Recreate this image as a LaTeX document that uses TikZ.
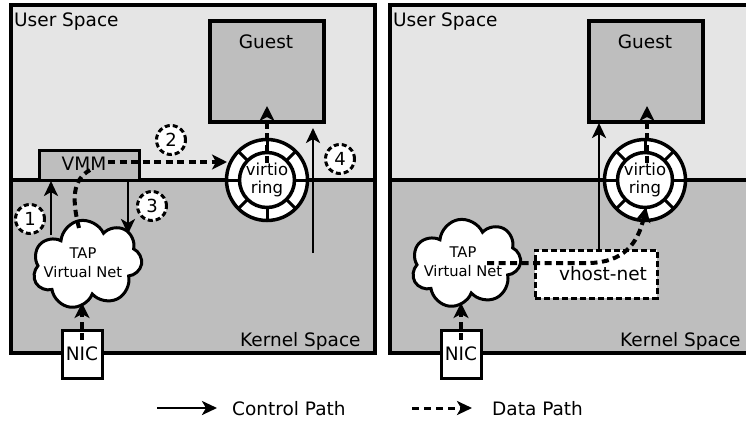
\documentclass[tikz,border=0pt]{standalone}
\usepackage{fontspec}
\setmainfont{DejaVu Sans}
\usetikzlibrary{arrows.meta,shapes.symbols}

\definecolor{userbg}{HTML}{E5E5E5}
\definecolor{kernbg}{HTML}{BEBEBE}

\begin{document}
\begin{tikzpicture}[x=1pt,y=-1pt,
  big/.style={font=\fontsize{18.5}{22}\selectfont},
  small/.style={font=\fontsize{14.7}{19}\selectfont},
  box/.style={draw, line width=3.5pt, fill=kernbg, inner sep=0},
  ringout/.style={circle, draw, line width=3.5pt, fill=white, minimum size=81, inner sep=0},
  ringin/.style={circle, draw, line width=3.5pt, fill=white, minimum size=55, inner sep=0,
    align=center, font=\fontsize{16.5}{18}\selectfont},
  spoke/.style={line width=3pt},
  cloudnode/.style={cloud, cloud puffs=7, cloud puff arc=150, aspect=1.2, draw,
    line width=3pt, fill=white, minimum width=110, minimum height=88, inner sep=0},
  nicbox/.style={draw, line width=3pt, fill=white, minimum width=40, minimum height=48,
    inner sep=0, big},
  numcirc/.style={circle, draw, dash pattern=on 5pt off 3pt, line width=3pt, fill=white,
    minimum size=29, inner sep=0, font=\fontsize{18}{20}\selectfont},
  ctrl/.style={line width=2.7pt, -{Stealth[length=15pt,width=14pt,inset=4pt]}},
  data/.style={line width=4pt, dash pattern=on 7pt off 4.5pt,
    -{Stealth[length=15pt,width=15pt,inset=4pt]}},
  dataline/.style={line width=4pt, dash pattern=on 7pt off 4.5pt},
]
\useasboundingbox (0,0) rectangle (746,421);

% ---------- left panel: classic virtio-net through the VMM ----------
\fill[userbg] (11,5) rectangle (375,180);
\fill[kernbg] (11,180) rectangle (375,353);
\draw[line width=3.5pt] (11,5) rectangle (375,353);
\draw[line width=3.5pt] (11,180) -- (375,180);
\node[big, anchor=base west, inner sep=0] (lus) at (14,26) {User Space};
\node[big, anchor=base west, inner sep=0] (lks) at (240,346) {Kernel Space};

\node[box, minimum width=114, minimum height=101] (lguest) at (267,71.5) {};
\node[big, anchor=base, inner sep=0] (lguestt) at (266,48) {Guest};

\node[box, line width=3pt, minimum width=100, minimum height=30] (vmm) at (89,165) {};
\node[big, anchor=base, inner sep=0] (vmmt) at (84,170) {VMM};

\node[ringout] (lring) at (267,180) {};
\foreach \a in {0,45,...,315}
  \draw[spoke] ([shift={(\a:27.5)}]lring.center) -- ([shift={(\a:40.5)}]lring.center);
\node[ringin] (lringc) at (267,180) {virtio\\ring};

\node[cloudnode, rotate=10] (lcloud) at (87,264) {};
\node[small, align=center, inner sep=0] (lcloudt) at (83,263) {TAP\\Virtual Net};

\node[nicbox] (lnic) at (82,354) {NIC};

% ---------- right panel: vhost-net in the kernel ----------
\begin{scope}
\clip (0,0) rectangle (746,421);
\fill[userbg] (390,5) rectangle (754,180);
\fill[kernbg] (390,180) rectangle (754,353);
\draw[line width=3.5pt] (390,5) rectangle (754,353);
\draw[line width=3.5pt] (390,180) -- (754,180);
\end{scope}
\node[big, anchor=base west, inner sep=0] (rus) at (393,26) {User Space};
\node[big, anchor=base west, inner sep=0] (rks) at (620,346) {Kernel Space};

\node[box, minimum width=114, minimum height=101] (rguest) at (646,71.5) {};
\node[big, anchor=base, inner sep=0] (rguestt) at (645,48) {Guest};

\node[ringout] (rring) at (645,180) {};
\foreach \a in {0,45,...,315}
  \draw[spoke] ([shift={(\a:27.5)}]rring.center) -- ([shift={(\a:40.5)}]rring.center);
\node[ringin] (rringc) at (645,180) {virtio\\ring};

\node[cloudnode, rotate=10] (rcloud) at (466,263) {};
\node[small, align=center, inner sep=0] (rcloudt) at (463,262) {TAP\\Virtual Net};

\node[nicbox] (rnic) at (461,354) {NIC};

\node[draw, line width=3pt, dash pattern=on 6pt off 3pt, fill=white,
  minimum width=122, minimum height=48, inner sep=0, big] (vhost) at (596,274)
  {\hspace*{14pt}vhost-net};

% ---------- connectors, left ----------
\coordinate (lnicdata) at (82,340);
\coordinate (lcloudbot) at (82,303);
\draw[data] (lnicdata) -- (lcloudbot);

\coordinate (lcloudtop) at (79,228);
\coordinate (vmmin) at (90,170);
\draw[dataline] (lcloudtop) .. controls (72,200) and (72,180) .. (vmmin);

\coordinate (vmmout) at (108,162);
\coordinate (lringw) at (227,162);
\draw[data] (vmmout) -- (lringw);

\coordinate (lringup) at (267,163);
\coordinate (lguestin) at (267,106);
\draw[data] (lringup) -- (lguestin);

\coordinate (c1a) at (51,235);
\coordinate (c1b) at (51,181);
\draw[ctrl] (c1a) -- (c1b);

\coordinate (c3a) at (128,180);
\coordinate (c3b) at (128,234);
\draw[ctrl] (c3a) -- (c3b);

\coordinate (c4a) at (313,253);
\coordinate (c4b) at (313,128);
\draw[ctrl] (c4a) -- (c4b);

\node[numcirc] (n1) at (30,219) {1};
\node[numcirc] (n2) at (171,140) {2};
\node[numcirc] (n3) at (152,206) {3};
\node[numcirc] (n4) at (340,159) {4};

% ---------- connectors, right ----------
\coordinate (rnicdata) at (461,340);
\coordinate (rcloudbot) at (461,303);
\draw[data] (rnicdata) -- (rcloudbot);

\coordinate (rcloudin) at (487,263);
\coordinate (rringb) at (646,207);
\draw[data] (rcloudin) -- (590,263) .. controls (622,262) and (638,245) .. (rringb);

\coordinate (rringup) at (647,163);
\coordinate (rguestin) at (647,106);
\draw[data] (rringup) -- (rguestin);

\coordinate (rc1) at (599,250);
\coordinate (rc2) at (599,123);
\draw[ctrl] (rc1) -- (rc2);

% ---------- legend ----------
\coordinate (lg1a) at (157,408);
\coordinate (lg1b) at (217,408);
\draw[ctrl] (lg1a) -- (lg1b);
\node[big, anchor=base west, inner sep=0] (lgctrl) at (232,415) {Control Path};

\coordinate (lg2a) at (412,408);
\coordinate (lg2b) at (472,408);
\draw[line width=3pt, dash pattern=on 7pt off 5pt,
  -{Stealth[length=15pt,width=14pt,inset=4pt]}] (lg2a) -- (lg2b);
\node[big, anchor=base west, inner sep=0] (lgdata) at (492,415) {Data Path};
\end{tikzpicture}
\end{document}
